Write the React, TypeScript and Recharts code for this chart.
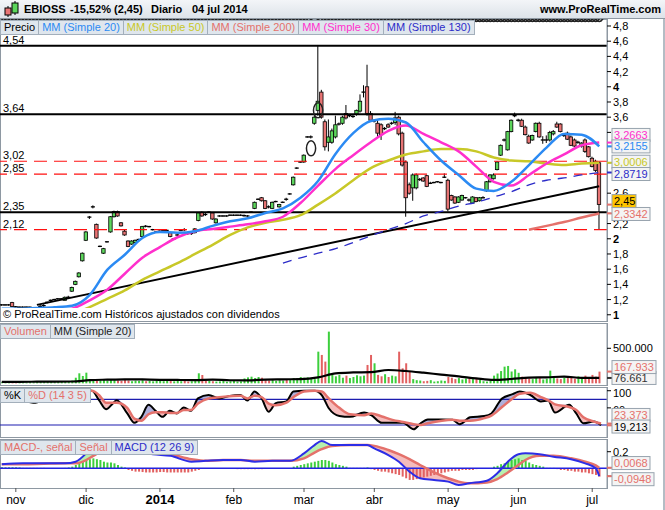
import React from 'react'
import {
  ComposedChart, Bar, Line, Area, Cell, Scatter, XAxis, YAxis, ReferenceLine,
} from 'recharts'

const FONT = '"Liberation Sans", Arial, sans-serif'

// one candle per trading day, late Oct 2013 -> 4 Jul 2014: [open, high, low, close]
const CANDLES = [
  [1.13, 1.14, 1.12, 1.13], [1.13, 1.14, 1.12, 1.13], [1.13, 1.14, 1.12, 1.13], [1.16, 1.17, 1.10, 1.11], [1.11, 1.115, 1.10, 1.10],
  [1.10, 1.11, 1.09, 1.10], [1.10, 1.11, 1.09, 1.10], [1.10, 1.11, 1.09, 1.10], [1.10, 1.105, 1.09, 1.10], [1.09, 1.10, 1.08, 1.09],
  [1.09, 1.10, 1.08, 1.09], [1.10, 1.13, 1.09, 1.12], [1.11, 1.14, 1.10, 1.13], [1.16, 1.17, 1.15, 1.17], [1.18, 1.20, 1.17, 1.20],
  [1.20, 1.21, 1.19, 1.20], [1.21, 1.22, 1.20, 1.21], [1.21, 1.22, 1.20, 1.21], [1.19, 1.24, 1.19, 1.23], [1.22, 1.25, 1.21, 1.24],
  [1.31, 1.37, 1.30, 1.36], [1.40, 1.45, 1.39, 1.44], [1.50, 1.56, 1.49, 1.55], [1.71, 1.82, 1.70, 1.81], [1.98, 2.10, 1.97, 2.09],
  [2.28, 2.30, 2.26, 2.29], [2.41, 2.44, 2.40, 2.43], [2.19, 2.20, 2.00, 2.01], [1.90, 1.91, 1.89, 1.90], [1.81, 1.88, 1.80, 1.87],
  [1.96, 1.97, 1.95, 1.96], [2.09, 2.30, 2.08, 2.29], [2.29, 2.37, 2.28, 2.36], [2.36, 2.37, 2.29, 2.30], [2.21, 2.22, 2.16, 2.17],
  [2.10, 2.12, 2.04, 2.05], [1.97, 1.98, 1.89, 1.90], [1.93, 1.98, 1.92, 1.97], [1.95, 1.99, 1.94, 1.98], [1.99, 2.00, 1.98, 1.99],
  [2.03, 2.17, 2.02, 2.16], [2.17, 2.18, 2.15, 2.16], [2.16, 2.17, 2.15, 2.16], [2.12, 2.13, 2.11, 2.12], [2.09, 2.10, 2.08, 2.09],
  [2.10, 2.11, 2.09, 2.10], [2.11, 2.12, 2.10, 2.11], [2.11, 2.12, 2.10, 2.11], [2.08, 2.09, 2.02, 2.03], [2.00, 2.01, 1.99, 2.00],
  [2.05, 2.06, 2.04, 2.05], [2.11, 2.12, 2.10, 2.11], [2.13, 2.14, 2.10, 2.11], [2.08, 2.09, 2.05, 2.06], [2.06, 2.09, 2.05, 2.08],
  [2.08, 2.14, 2.07, 2.13], [2.24, 2.35, 2.23, 2.34], [2.35, 2.36, 2.29, 2.30], [2.33, 2.34, 2.30, 2.31], [2.35, 2.36, 2.34, 2.35],
  [2.34, 2.35, 2.25, 2.26], [2.21, 2.27, 2.20, 2.26], [2.30, 2.31, 2.29, 2.30], [2.30, 2.31, 2.29, 2.30], [2.30, 2.31, 2.29, 2.30],
  [2.31, 2.32, 2.30, 2.31], [2.31, 2.32, 2.30, 2.31], [2.31, 2.32, 2.30, 2.31], [2.31, 2.32, 2.30, 2.31], [2.30, 2.32, 2.29, 2.31],
  [2.30, 2.31, 2.29, 2.30], [2.35, 2.36, 2.34, 2.35], [2.40, 2.49, 2.39, 2.48], [2.52, 2.53, 2.51, 2.52], [2.54, 2.55, 2.49, 2.50],
  [2.50, 2.51, 2.39, 2.40], [2.43, 2.44, 2.40, 2.41], [2.40, 2.49, 2.39, 2.48], [2.49, 2.50, 2.48, 2.49], [2.42, 2.46, 2.41, 2.45],
  [2.48, 2.49, 2.47, 2.48], [2.53, 2.54, 2.50, 2.51], [2.59, 2.60, 2.58, 2.59], [2.71, 2.82, 2.70, 2.81], [2.93, 2.94, 2.92, 2.93],
  [3.01, 3.02, 3.00, 3.01], [3.01, 3.11, 3.00, 3.10], [3.34, 3.35, 3.33, 3.34], [3.34, 3.36, 3.32, 3.34], [3.52, 3.62, 3.50, 3.60],
  [3.69, 4.55, 3.62, 3.81], [3.93, 3.96, 3.58, 3.60], [3.54, 3.57, 3.16, 3.21], [3.27, 3.57, 3.15, 3.34], [3.27, 3.45, 3.25, 3.42],
  [3.34, 3.62, 3.32, 3.50], [3.51, 3.53, 3.49, 3.51], [3.52, 3.62, 3.50, 3.60], [3.65, 3.76, 3.57, 3.59], [3.62, 3.64, 3.60, 3.62],
  [3.61, 3.63, 3.59, 3.61], [3.64, 3.70, 3.62, 3.69], [3.68, 3.90, 3.66, 3.81], [3.93, 4.02, 3.86, 3.93], [4.00, 4.29, 3.62, 3.65],
  [3.65, 3.68, 3.54, 3.56], [3.55, 3.57, 3.53, 3.55], [3.52, 3.56, 3.33, 3.39], [3.50, 3.52, 3.30, 3.37], [3.45, 3.47, 3.43, 3.45],
  [3.50, 3.52, 3.46, 3.47], [3.52, 3.54, 3.50, 3.52], [3.53, 3.67, 3.50, 3.59], [3.60, 3.62, 3.36, 3.38], [3.39, 3.41, 2.95, 2.97],
  [3.01, 3.03, 2.29, 2.54], [2.71, 2.74, 2.58, 2.60], [2.67, 2.86, 2.50, 2.84], [2.67, 2.86, 2.65, 2.84], [2.78, 2.80, 2.76, 2.78],
  [2.80, 2.81, 2.75, 2.76], [2.83, 2.84, 2.68, 2.69], [2.73, 2.75, 2.72, 2.73], [2.74, 2.75, 2.73, 2.74], [2.75, 2.76, 2.74, 2.75],
  [2.74, 2.75, 2.73, 2.74], [2.81, 2.86, 2.80, 2.81], [2.77, 2.79, 2.36, 2.39], [2.57, 2.58, 2.50, 2.51], [2.55, 2.56, 2.46, 2.47],
  [2.48, 2.56, 2.47, 2.55], [2.51, 2.58, 2.50, 2.57], [2.54, 2.55, 2.53, 2.54], [2.52, 2.53, 2.49, 2.50], [2.47, 2.56, 2.46, 2.55],
  [2.54, 2.55, 2.48, 2.49], [2.50, 2.55, 2.49, 2.54], [2.54, 2.56, 2.53, 2.54], [2.63, 2.76, 2.62, 2.75], [2.75, 2.85, 2.74, 2.84],
  [2.79, 2.86, 2.78, 2.84], [2.91, 3.02, 2.90, 3.01], [3.10, 3.24, 3.09, 3.23], [3.30, 3.32, 3.28, 3.30], [3.17, 3.42, 3.16, 3.41],
  [3.41, 3.57, 3.40, 3.56], [3.62, 3.66, 3.60, 3.62], [3.56, 3.58, 3.54, 3.56], [3.56, 3.58, 3.47, 3.48], [3.47, 3.49, 3.36, 3.37],
  [3.35, 3.37, 3.25, 3.26], [3.30, 3.37, 3.29, 3.36], [3.41, 3.53, 3.40, 3.52], [3.52, 3.54, 3.33, 3.34], [3.30, 3.35, 3.25, 3.30],
  [3.30, 3.36, 3.26, 3.30], [3.30, 3.42, 3.28, 3.40], [3.38, 3.43, 3.36, 3.41], [3.51, 3.54, 3.46, 3.47], [3.51, 3.52, 3.40, 3.41],
  [3.36, 3.38, 3.34, 3.36], [3.39, 3.41, 3.30, 3.31], [3.34, 3.36, 3.22, 3.23], [3.30, 3.32, 3.21, 3.22], [3.27, 3.29, 3.25, 3.27],
  [3.22, 3.27, 3.20, 3.26], [3.30, 3.32, 3.13, 3.15], [3.21, 3.22, 3.07, 3.08], [3.06, 3.08, 2.94, 2.95], [3.02, 3.04, 2.88, 2.90],
  [3.00, 3.02, 2.12, 2.45],
]

// daily volume, thousands of shares
const VOLUME = [
  15, 12, 18, 25, 14, 10, 16, 12, 20, 14,
  33, 30, 18, 22, 20, 16, 25, 20, 28, 30,
  40, 80, 143, 105, 152, 60, 48, 45, 40, 50,
  38, 55, 45, 40, 35, 48, 42, 30, 38, 35,
  45, 30, 35, 28, 40, 35, 30, 38, 32, 28,
  35, 30, 38, 25, 30, 45, 143, 119, 40, 35,
  30, 25, 28, 40, 22, 30, 35, 25, 28, 70,
  85, 95, 75, 90, 80, 45, 40, 50, 35, 45,
  40, 50, 60, 75, 70, 90, 80, 85, 70, 60,
  452, 405, 310, 738, 143, 100, 120, 80, 110, 75,
  90, 115, 100, 110, 262, 405, 286, 120, 100, 130,
  90, 110, 100, 452, 214, 286, 167, 60, 45, 40,
  30, 35, 45, 25, 30, 40, 35, 90, 80, 60,
  75, 55, 70, 85, 60, 65, 50, 30, 25, 40,
  110, 140, 175, 238, 248, 167, 200, 150, 95, 80,
  70, 60, 85, 75, 55, 65, 181, 90, 70, 60,
  80, 75, 95, 65, 100, 90, 110, 85, 120, 95,
  167,
]

// moving averages, read every 5th trading day
const MA_STEP = 5
const MA20 = [1.08, 1.08, 1.09, 1.10, 1.12, 1.26, 1.59, 1.79, 2.01, 2.09, 2.08, 2.10, 2.17, 2.23, 2.27, 2.34, 2.40, 2.54, 2.76, 3.12, 3.39, 3.55, 3.58, 3.53, 3.27, 3.03, 2.84, 2.66, 2.63, 2.75, 2.97, 3.20, 3.38, 3.37, 3.2155]
const MA30 = [1.04, 1.04, 1.05, 1.05, 1.08, 1.19, 1.33, 1.54, 1.75, 1.89, 2.02, 2.10, 2.13, 2.16, 2.19, 2.23, 2.29, 2.47, 2.70, 2.92, 3.10, 3.27, 3.42, 3.49, 3.38, 3.27, 3.15, 2.95, 2.75, 2.70, 2.84, 2.99, 3.11, 3.23, 3.2663]
const MA50 = [0.98, 0.99, 1.0, 1.0, 1.02, 1.10, 1.21, 1.32, 1.46, 1.57, 1.68, 1.80, 1.92, 2.05, 2.15, 2.21, 2.25, 2.31, 2.45, 2.60, 2.77, 2.93, 3.03, 3.11, 3.15, 3.18, 3.18, 3.15, 3.07, 3.03, 3.02, 2.99, 2.97, 2.99, 3.0006]
const MA130_FROM = 80
const MA130 = [1.68, 1.75, 1.81, 1.87, 1.95, 2.04, 2.12, 2.20, 2.30, 2.36, 2.43, 2.48, 2.55, 2.62, 2.71, 2.77, 2.80, 2.84, 2.8719]
const MA200_FROM = 150
const MA200 = [2.12, 2.17, 2.22, 2.28, 2.3342]
const VOL_MA = [22, 22, 23, 24, 26, 45, 52, 57, 55, 50, 48, 46, 52, 44, 43, 52, 57, 60, 85, 143, 155, 160, 190, 176, 152, 125, 100, 70, 48, 62, 81, 86, 95, 78, 76.661]

// stochastic %K / %D (14 3 5)
const STOCH_DAYS = [0, 8, 10, 12, 16, 24, 26, 28, 30, 32, 33, 36, 38, 40, 42, 44, 46, 48, 50, 52, 54, 56, 59, 62, 65, 68, 70, 72, 74, 76, 78, 81, 83, 86, 89, 91, 93, 96, 99, 103, 105, 108, 111, 114, 117, 119, 121, 125, 128, 130, 133, 137, 139, 142, 145, 147, 150, 153, 155, 157, 161, 163, 165, 168, 170]
const STOCH_K = [85, 74, 72, 80, 98, 100, 100, 78, 57, 71, 78, 47, 25, 39, 67, 53, 39, 53, 47, 61, 53, 82, 90, 82, 88, 90, 77, 98, 82, 51, 71, 75, 98, 100, 100, 90, 59, 41, 39, 49, 43, 25, 25, 25, 10, 24, 33, 33, 32, 22, 38, 41, 47, 82, 92, 98, 90, 75, 77, 49, 67, 47, 24, 28, 19.213]
const STOCH_D = [88, 82, 76, 78, 90, 100, 100, 90, 72, 72, 72, 60, 35, 30, 45, 50, 50, 48, 48, 55, 55, 70, 82, 85, 87, 88, 82, 88, 85, 70, 66, 72, 85, 98, 100, 98, 82, 60, 45, 43, 47, 40, 32, 27, 22, 20, 24, 30, 32, 30, 30, 36, 42, 62, 82, 93, 95, 85, 78, 68, 62, 55, 38, 28, 23.373]

// MACD (12 26 9)
const MACD_DAYS = [0, 6, 12, 18, 21, 24, 26, 29, 32, 36, 38, 43, 48, 54, 58, 63, 68, 72, 77, 82, 86, 89, 91, 94, 99, 104, 106, 110, 113, 116, 119, 123, 127, 130, 133, 138, 141, 144, 147, 149, 153, 157, 162, 166, 169, 170]
const MACD_LINE = [0.05, 0.06, 0.06, 0.06, 0.08, 0.18, 0.28, 0.33, 0.31, 0.25, 0.21, 0.17, 0.15, 0.08, 0.09, 0.1, 0.1, 0.08, 0.09, 0.09, 0.18, 0.28, 0.33, 0.28, 0.28, 0.28, 0.24, 0.16, 0.08, -0.04, -0.12, -0.14, -0.16, -0.2, -0.18, -0.15, -0.06, 0.08, 0.17, 0.18, 0.17, 0.14, 0.11, 0.06, 0.0, -0.0948]
const MACD_SIGNAL = [0.05, 0.05, 0.055, 0.06, 0.06, 0.1, 0.15, 0.22, 0.26, 0.27, 0.25, 0.2, 0.17, 0.11, 0.09, 0.1, 0.1, 0.09, 0.09, 0.09, 0.12, 0.19, 0.23, 0.27, 0.28, 0.28, 0.27, 0.22, 0.17, 0.11, 0.04, -0.05, -0.12, -0.16, -0.18, -0.17, -0.13, -0.05, 0.04, 0.1, 0.15, 0.15, 0.12, 0.08, 0.035, 0.0068]
const MACD_HIST = [
  0.012, 0.012, 0.012, 0.012, 0.012, 0.01, 0.005, 0.005, 0.005, 0.005,
  0.005, 0.005, 0.005, 0.004, 0.004, 0.004, 0.004, 0.004, 0.005, 0.01,
  0.02, 0.04, 0.06, 0.08, 0.1, 0.11, 0.12, 0.11, 0.1, 0.08,
  0.07, 0.07, 0.06, 0.04, 0.02, 0.01, -0.02, -0.03, -0.04, -0.04,
  -0.045, -0.05, -0.05, -0.05, -0.05, -0.045, -0.045, -0.05, -0.05, -0.05,
  -0.05, -0.05, -0.05, -0.05, -0.04, -0.03, -0.02, -0.005, 0.004, 0.004,
  -0.004, 0.004, -0.004, 0.004, -0.004, -0.004, 0.004, -0.01, -0.01, -0.01,
  -0.01, -0.01, -0.01, -0.01, -0.01, 0.003, 0.003, 0.003, 0.003, 0.003,
  0.003, 0.003, 0.003, 0.02, 0.03, 0.04, 0.05, 0.06, 0.07, 0.08,
  0.09, 0.1, 0.1, 0.09, 0.07, 0.05, 0.04, 0.03, 0.02, 0.005,
  0.005, 0.005, 0.005, 0.005, 0.01, -0.01, -0.02, -0.03, -0.04, -0.04,
  -0.05, -0.06, -0.07, -0.08, -0.1, -0.12, -0.14, -0.14, -0.13, -0.12,
  -0.11, -0.1, -0.09, -0.08, -0.07, -0.06, -0.05, -0.04, -0.03, -0.03,
  -0.03, -0.02, -0.02, -0.02, -0.02, -0.01, -0.005, -0.005, -0.005, -0.005,
  0.02, 0.03, 0.05, 0.06, 0.08, 0.1, 0.11, 0.12, 0.1, 0.09,
  0.07, 0.05, 0.04, 0.03, 0.02, 0.005, 0.005, 0.005, -0.01, -0.02,
  -0.02, -0.03, -0.03, -0.04, -0.04, -0.05, -0.05, -0.06, -0.07, -0.08,
  -0.1,
]

// support / resistance drawn on the price panel
const SOLID_LEVELS = [4.54, 3.64, 2.35]
const DASHED_LEVELS = [3.02, 2.85, 2.12]
const TREND = [{ day: 10, price: 1.13 }, { day: 170, price: 2.69 }]
const MARKED_DAYS = [88, 90]
const MARKED_PRICES = [3.19, 3.69]

// axis labels; the ones fully hidden behind the value boxes are left out
const PRICE_TICKS = [1, 1.2, 1.4, 1.6, 1.8, 2, 2.2, 2.6, 3.4, 3.6, 3.8, 4, 4.2, 4.4, 4.6, 4.8]
const STOCH_TICKS = [100, 60]
const MONTH_DAYS = [4, 24, 45, 66, 86, 106, 127, 147, 168]
const MONTH_LABELS = ['nov', 'dic', '2014', 'feb', 'mar', 'abr', 'may', 'jun', 'jul']

const BLUE = '#2b8af3'
const YELLOW = '#c8c828'
const SALMON = '#e4716b'
const MAGENTA = '#ff2fcc'
const NAVY = '#2c2cc8'
const UP = '#5cd65c'
const DOWN = '#e77474'
const GRID = '#8e98a2'

type Box = { v: number; text: string; color: string; dy: number; fill?: string; w?: number; mark?: string }

// last-value boxes on the right axes; dy nudges them apart the way the platform stacks them
const PRICE_BOXES: Box[] = [
  { v: 3.2663, text: '3,2663', color: MAGENTA, dy: -7.6 },
  { v: 3.2155, text: '3,2155', color: BLUE, dy: 0 },
  { v: 3.0006, text: '3,0006', color: YELLOW, dy: -1 },
  { v: 2.8719, text: '2,8719', color: NAVY, dy: 1.5 },
  { v: 2.3342, text: '2,3342', color: SALMON, dy: 0.6 },
  { v: 2.45, text: '2,45', color: '#000', dy: -3.5, fill: '#ffc400', w: 24, mark: SALMON },
]
const VOLUME_BOXES: Box[] = [
  { v: 76.661, text: '76.661', color: '#333', dy: 0, w: 44 },
  { v: 167.933, text: '167.933', color: SALMON, dy: -4.5, w: 44 },
]
const STOCH_BOXES: Box[] = [
  { v: 23.373, text: '23,373', color: SALMON, dy: -8.6 },
  { v: 19.213, text: '19,213', color: '#000', dy: 1.2, mark: SALMON },
]
const MACD_BOXES: Box[] = [
  { v: 0.0068, text: '0,0068', color: SALMON, dy: -4.7 },
  { v: -0.0948, text: '-0,0948', color: SALMON, dy: 3, w: 42 },
]

const CHART_W = 663
const AXIS_W = 56
const PAD = { left: 0, right: 6 }
const LIFT = 5 // extra room above each panel so top tick labels are not clipped

const every = (arr: number[], from: number, step: number, i: number) =>
  i >= from && (i - from) % step === 0 && (i - from) / step < arr.length ? arr[(i - from) / step] : null
const at = (days: number[], vals: number[], i: number) => {
  const k = days.indexOf(i)
  return k < 0 ? null : vals[k]
}

const rows = CANDLES.map(([o, h, l, c], i) => ({
  i, o, h, l, c,
  ma20: every(MA20, 0, MA_STEP, i),
  ma30: every(MA30, 0, MA_STEP, i),
  ma50: every(MA50, 0, MA_STEP, i),
  ma130: every(MA130, MA130_FROM, MA_STEP, i),
  ma200: every(MA200, MA200_FROM, MA_STEP, i),
  mark: at(MARKED_DAYS, MARKED_PRICES, i),
  vol: VOLUME[i],
  vma: every(VOL_MA, 0, MA_STEP, i),
  k: at(STOCH_DAYS, STOCH_K, i),
  d: at(STOCH_DAYS, STOCH_D, i),
  macd: at(MACD_DAYS, MACD_LINE, i),
  sig: at(MACD_DAYS, MACD_SIGNAL, i),
  hist: MACD_HIST[i],
}))

const comma = (v: number, dec = 1) => (Number.isInteger(v) ? String(v) : v.toFixed(dec).replace('.', ','))

function Candle(props: any) {
  const { x, y, width, height, payload } = props
  if (!payload || !isFinite(y)) return null
  const { o, h, l, c } = payload
  const k = height / (h - l)
  const cx = x + width / 2
  const top = y + (h - Math.max(o, c)) * k
  const bot = y + (h - Math.min(o, c)) * k
  const flat = bot - top < 1.6
  return (
    <g>
      <line x1={cx} x2={cx} y1={y} y2={y + height} stroke="#000" strokeWidth={1} />
      {flat
        ? <line x1={cx - 2} x2={cx + 2} y1={(top + bot) / 2} y2={(top + bot) / 2} stroke="#000" strokeWidth={1.3} />
        : <rect x={cx - 1.7} y={top} width={3.4} height={bot - top} fill={c >= o ? UP : DOWN} stroke="#000" strokeWidth={0.8} />}
    </g>
  )
}

function Oval(props: any) {
  const { cx, cy } = props
  if (!isFinite(cx) || !isFinite(cy)) return null
  return <ellipse cx={cx} cy={cy} rx={4.6} ry={7.5} fill="none" stroke="#222" strokeWidth={1.5} />
}

// right-axis tick: plain label, or a value box when the tick is one of the boxes (boxes come last, so they cover labels)
function AxisTick(props: any) {
  const { x, y, payload, format, boldInts, boxes = [], dy = 4 } = props
  const v = payload.value
  const box: Box | undefined = boxes.find((b: Box) => b.v === v)
  if (box) {
    const by = y + box.dy
    return (
      <g>
        <line x1={x - 6} x2={x - 1} y1={y} y2={y} stroke={box.mark ?? box.color} strokeWidth={2} />
        <rect x={x - 1} y={by - 6.5} width={box.w ?? 38} height={13} fill={box.fill ?? '#f4f4f4'} stroke="#97a3ae" strokeWidth={1} />
        <text x={x + 1} y={by + 4} fontSize={11} fontFamily={FONT} fill={box.color}>{box.text}</text>
      </g>
    )
  }
  const bold = boldInts && Number.isInteger(v)
  return (
    <text x={x} y={y} dy={dy} textAnchor="start" fontSize={11} fontFamily={FONT} fontWeight={bold ? 700 : 400} fill="#000">
      {format(v)}
    </text>
  )
}

function MonthTick(props: any) {
  const { x, y, payload } = props
  const label = MONTH_LABELS[MONTH_DAYS.indexOf(payload.value)]
  const bold = label === '2014'
  return (
    <text x={x} y={y} dy={10} textAnchor="middle" fontSize={bold ? 13 : 12} fontWeight={bold ? 700 : 400} fontFamily={FONT} fill="#000">
      {label}
    </text>
  )
}

const levelLabel = (text: string) => (props: any) => {
  const vb = props.viewBox
  if (!vb) return null
  return <text x={vb.x + 3} y={vb.y - 2} fontSize={11} fontFamily={FONT} fill="#000">{text}</text>
}

const legendBox = (color: string): React.CSSProperties => ({
  display: 'inline-block', height: 13, lineHeight: '13px', padding: '0 3px', marginRight: -1,
  border: '1px solid #a3afbb', background: '#dfe6ed', color, fontSize: 11, fontFamily: FONT, whiteSpace: 'nowrap',
})

const yAxisCommon = {
  orientation: 'right' as const, width: AXIS_W, allowDataOverflow: true, interval: 0 as const,
  tickSize: 4, tickMargin: 2, axisLine: { stroke: GRID }, tickLine: { stroke: '#000' },
}
const MARGIN = { top: LIFT, right: 0, bottom: 0, left: 0 }

function Legend({ top, items }: { top: number; items: [string, string][] }) {
  return (
    <div style={{ position: 'absolute', left: 0, top, display: 'flex', zIndex: 3 }}>
      {items.map(([t, c]) => <span key={t} style={legendBox(c)}>{t}</span>)}
    </div>
  )
}

function Frame({ top, height }: { top: number; height: number }) {
  return (
    <div style={{ position: 'absolute', left: 0, top, width: 608, height, boxSizing: 'border-box', border: `1px solid ${GRID}` }} />
  )
}

export default function App() {
  return (
    <div style={{ position: 'absolute', left: 0, top: 0, width: 665, height: 510, background: '#fff', overflow: 'hidden', fontFamily: FONT }}>
      <Frame top={19} height={303} />
      <Frame top={323} height={63} />
      <Frame top={387} height={51} />
      <Frame top={439} height={50} />
      <div style={{ position: 'absolute', left: 663, top: 19, width: 2, height: 491, background: '#b4bcc4' }} />

      {/* price panel */}
      <div style={{ position: 'absolute', left: 0, top: 19 - LIFT }}>
        <ComposedChart width={CHART_W} height={302 + LIFT} data={rows} margin={MARGIN}>
          <XAxis dataKey="i" hide padding={PAD} />
          <YAxis {...yAxisCommon} domain={[0.918, 4.892]} ticks={[...PRICE_TICKS, ...PRICE_BOXES.map((b) => b.v)]}
            tick={<AxisTick format={(v: number) => comma(v)} boldInts boxes={PRICE_BOXES} />} />
          {SOLID_LEVELS.map((v) => (
            <ReferenceLine key={v} y={v} stroke="#000" strokeWidth={2} label={levelLabel(comma(v, 2))} />
          ))}
          {DASHED_LEVELS.map((v) => (
            <ReferenceLine key={v} y={v} stroke="#ff1010" strokeWidth={1.2} strokeDasharray="13 7" label={levelLabel(comma(v, 2))} />
          ))}
          <ReferenceLine segment={[{ x: TREND[0].day, y: TREND[0].price }, { x: TREND[1].day, y: TREND[1].price }]} stroke="#000" strokeWidth={2} />
          <Line dataKey="ma200" type="monotone" stroke={SALMON} strokeWidth={2.5} dot={false} connectNulls isAnimationActive={false} />
          <Line dataKey="ma130" type="monotone" stroke={NAVY} strokeWidth={1.3} strokeDasharray="9 7" dot={false} connectNulls isAnimationActive={false} />
          <Line dataKey="ma50" type="monotone" stroke={YELLOW} strokeWidth={2.5} dot={false} connectNulls isAnimationActive={false} />
          <Line dataKey="ma30" type="monotone" stroke={MAGENTA} strokeWidth={2.5} dot={false} connectNulls isAnimationActive={false} />
          <Line dataKey="ma20" type="monotone" stroke={BLUE} strokeWidth={2.5} dot={false} connectNulls isAnimationActive={false} />
          <Bar dataKey={(r: any) => [r.l, r.h]} barSize={3} shape={(p: any) => <Candle {...p} />} isAnimationActive={false} />
          <Scatter dataKey="mark" shape={(p: any) => <Oval {...p} />} isAnimationActive={false} />
        </ComposedChart>
      </div>

      {/* header */}
      <div style={{ position: 'absolute', left: 0, top: 0, width: 665, height: 19, boxSizing: 'border-box', background: 'linear-gradient(#f3f5f8, #dde3e9)', borderBottom: `1px solid ${GRID}`, zIndex: 4 }}>
        <svg width={18} height={18} style={{ position: 'absolute', left: 3, top: 0 }}>
          <line x1={5} x2={5} y1={6} y2={17} stroke="#000" />
          <rect x={2} y={8} width={6} height={7} fill={DOWN} stroke="#000" />
          <line x1={12} x2={12} y1={1} y2={15} stroke="#000" />
          <rect x={9} y={3} width={6} height={10} fill={UP} stroke="#000" />
        </svg>
        <span style={{ position: 'absolute', left: 24, top: 3, fontSize: 11, fontWeight: 700 }}>EBIOSS</span>
        <span style={{ position: 'absolute', left: 70, top: 3, fontSize: 11, fontWeight: 700 }}>-15,52% (2,45)</span>
        <span style={{ position: 'absolute', left: 151, top: 3, fontSize: 11, fontWeight: 700 }}>Diario</span>
        <span style={{ position: 'absolute', left: 192, top: 3, fontSize: 11, fontWeight: 700 }}>04 jul 2014</span>
        <span style={{ position: 'absolute', right: 4, top: 3, fontSize: 11, fontWeight: 700 }}>www.ProRealTime.com</span>
      </div>
      <Legend top={20} items={[['Precio', '#000'], ['MM (Simple 20)', BLUE], ['MM (Simple 50)', YELLOW], ['MM (Simple 200)', SALMON], ['MM (Simple 30)', MAGENTA], ['MM (Simple 130)', NAVY]]} />
      <div style={{ position: 'absolute', left: 1, top: 308, height: 12, lineHeight: '12px', fontSize: 11, background: '#fff', padding: '0 2px', zIndex: 2 }}>
        © ProRealTime.com  Históricos ajustados con dividendos
      </div>

      {/* volume panel */}
      <div style={{ position: 'absolute', left: 0, top: 323 - LIFT }}>
        <ComposedChart width={CHART_W} height={62 + LIFT} data={rows} margin={MARGIN}>
          <XAxis dataKey="i" hide padding={PAD} />
          <YAxis {...yAxisCommon} domain={[-24, 861]} ticks={[500, ...VOLUME_BOXES.map((b) => b.v)]}
            tick={<AxisTick format={(v: number) => `${v}.000`} boxes={VOLUME_BOXES} />} />
          <Bar dataKey="vol" barSize={2} isAnimationActive={false}>
            {rows.map((r) => <Cell key={r.i} fill={r.c >= r.o ? '#3ccf3c' : '#e26060'} />)}
          </Bar>
          <Line dataKey="vma" type="monotone" stroke="#000" strokeWidth={2.2} dot={false} connectNulls isAnimationActive={false} />
        </ComposedChart>
      </div>
      <Legend top={324} items={[['Volumen', SALMON], ['MM (Simple 20)', '#222']]} />

      {/* stochastic panel */}
      <div style={{ position: 'absolute', left: 0, top: 387 - LIFT }}>
        <ComposedChart width={CHART_W} height={50 + LIFT} data={rows} margin={MARGIN}>
          <XAxis dataKey="i" hide padding={PAD} />
          <YAxis {...yAxisCommon} domain={[-8, 108.7]} ticks={[...STOCH_TICKS, ...STOCH_BOXES.map((b) => b.v)]}
            tick={<AxisTick format={(v: number) => String(v)} dy={6} boxes={STOCH_BOXES} />} />
          <ReferenceLine y={80} stroke="#1c1cb0" strokeWidth={1.2} />
          <ReferenceLine y={20} stroke="#1c1cb0" strokeWidth={1.2} />
          <Area dataKey={(r: any) => (r.k == null ? null : [r.d, Math.max(r.k, r.d)])} type="monotone" fill="#aeb0dc" fillOpacity={1} stroke="none" connectNulls isAnimationActive={false} />
          <Area dataKey={(r: any) => (r.k == null ? null : [Math.min(r.k, r.d), r.d])} type="monotone" fill="#f5bcbc" fillOpacity={1} stroke="none" connectNulls isAnimationActive={false} />
          <Line dataKey="k" type="monotone" stroke="#000" strokeWidth={2} dot={false} connectNulls isAnimationActive={false} />
          <Line dataKey="d" type="monotone" stroke={SALMON} strokeWidth={2.5} dot={false} connectNulls isAnimationActive={false} />
        </ComposedChart>
      </div>
      <Legend top={388} items={[['%K', '#000'], ['%D (14 3 5)', SALMON]]} />

      {/* MACD panel + time axis */}
      <div style={{ position: 'absolute', left: 0, top: 439 - LIFT }}>
        <ComposedChart width={CHART_W} height={71 + LIFT} data={rows} margin={MARGIN}>
          <XAxis dataKey="i" padding={PAD} height={22} ticks={MONTH_DAYS} interval={0} axisLine={false}
            tickSize={4} tickMargin={2} tickLine={{ stroke: '#555' }} tick={<MonthTick />} />
          <YAxis {...yAxisCommon} domain={[-0.237, 0.353]} ticks={[0.2, ...MACD_BOXES.map((b) => b.v)]}
            tick={<AxisTick format={(v: number) => String(v)} boxes={MACD_BOXES} />} />
          <Bar dataKey="hist" barSize={2} isAnimationActive={false}>
            {rows.map((r) => <Cell key={r.i} fill={r.hist >= 0 ? '#3ccf3c' : '#e26060'} />)}
          </Bar>
          <ReferenceLine y={0} stroke="#2323e0" strokeWidth={1.5} />
          <Area dataKey={(r: any) => (r.macd == null ? null : [r.sig, Math.max(r.macd, r.sig)])} type="monotone" fill="#b6f0ae" fillOpacity={1} stroke="none" connectNulls isAnimationActive={false} />
          <Area dataKey={(r: any) => (r.macd == null ? null : [Math.min(r.macd, r.sig), r.sig])} type="monotone" fill="#f5bcbc" fillOpacity={1} stroke="none" connectNulls isAnimationActive={false} />
          <Line dataKey="sig" type="monotone" stroke={SALMON} strokeWidth={2.5} dot={false} connectNulls isAnimationActive={false} />
          <Line dataKey="macd" type="monotone" stroke="#2d2de6" strokeWidth={2} dot={false} connectNulls isAnimationActive={false} />
        </ComposedChart>
      </div>
      <Legend top={440} items={[['MACD-, señal', SALMON], ['Señal', SALMON], ['MACD (12 26 9)', NAVY]]} />
    </div>
  )
}
